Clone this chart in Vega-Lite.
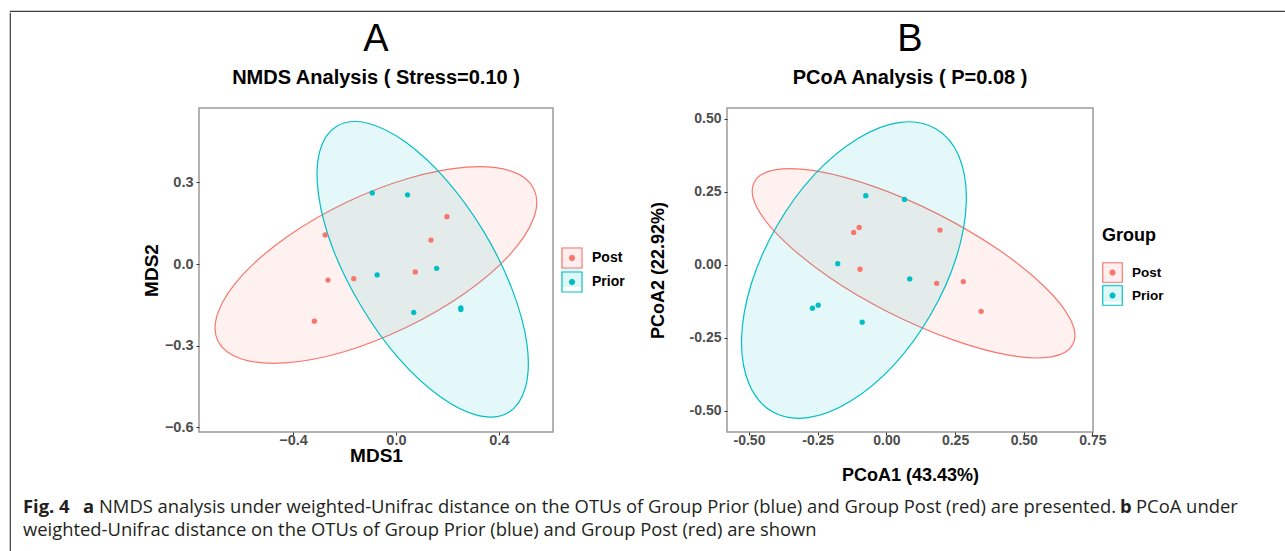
{
 "$schema": "https://vega.github.io/schema/vega-lite/v6.json",
 "background": "white",
 "padding": {"left": 9, "top": 10, "right": 0, "bottom": 0},
 "spacing": 0,
 "config": {
  "view": {"stroke": "#9a9a9a", "strokeWidth": 1.5},
  "axis": {"grid": false, "domain": false, "ticks": true, "tickColor": "#333333", "tickSize": 3, "tickWidth": 1, "labelFont": "Liberation Sans", "labelFontWeight": "bold", "labelColor": "#4d4d4d", "labelFontSize": 14, "labelPadding": 3, "titleFont": "Liberation Sans", "titleFontWeight": "bold", "titleColor": "black", "labelFlush": false, "labelOverlap": false},
  "legend": {"labelFont": "Liberation Sans", "labelFontWeight": "bold", "labelColor": "black", "titleFont": "Liberation Sans", "titleFontWeight": "bold", "titleColor": "black"},
  "title": {"font": "Liberation Sans", "fontSize": 38, "fontWeight": "normal", "color": "black", "subtitleFont": "Liberation Sans", "subtitleFontSize": 20, "subtitleFontWeight": "bold", "subtitleColor": "black"}
 },
 "datasets": {
  "ellA": [
   {"Group": "Post", "k": 0, "x": 0.536, "y": 0.275}, {"Group": "Post", "k": 1, "x": 0.534, "y": 0.166}, {"Group": "Post", "k": 2, "x": 0.439, "y": 0.031}, {"Group": "Post", "k": 3, "x": 0.265, "y": -0.109},
   {"Group": "Post", "k": 4, "x": 0.039, "y": -0.233}, {"Group": "Post", "k": 5, "x": -0.205, "y": -0.323}, {"Group": "Post", "k": 6, "x": -0.43, "y": -0.363}, {"Group": "Post", "k": 7, "x": -0.6, "y": -0.349},
   {"Group": "Post", "k": 8, "x": -0.692, "y": -0.282}, {"Group": "Post", "k": 9, "x": -0.689, "y": -0.173}, {"Group": "Post", "k": 10, "x": -0.594, "y": -0.038}, {"Group": "Post", "k": 11, "x": -0.42, "y": 0.102},
   {"Group": "Post", "k": 12, "x": -0.194, "y": 0.226}, {"Group": "Post", "k": 13, "x": 0.05, "y": 0.315}, {"Group": "Post", "k": 14, "x": 0.274, "y": 0.356}, {"Group": "Post", "k": 15, "x": 0.445, "y": 0.342},
   {"Group": "Prior", "k": 0, "x": 0.437, "y": -0.545}, {"Group": "Prior", "k": 1, "x": 0.32, "y": -0.557}, {"Group": "Prior", "k": 2, "x": 0.171, "y": -0.487}, {"Group": "Prior", "k": 3, "x": 0.01, "y": -0.346},
   {"Group": "Prior", "k": 4, "x": -0.135, "y": -0.155}, {"Group": "Prior", "k": 5, "x": -0.245, "y": 0.056}, {"Group": "Prior", "k": 6, "x": -0.301, "y": 0.256}, {"Group": "Prior", "k": 7, "x": -0.296, "y": 0.414},
   {"Group": "Prior", "k": 8, "x": -0.23, "y": 0.506}, {"Group": "Prior", "k": 9, "x": -0.113, "y": 0.518}, {"Group": "Prior", "k": 10, "x": 0.037, "y": 0.448}, {"Group": "Prior", "k": 11, "x": 0.197, "y": 0.307},
   {"Group": "Prior", "k": 12, "x": 0.343, "y": 0.116}, {"Group": "Prior", "k": 13, "x": 0.452, "y": -0.095}, {"Group": "Prior", "k": 14, "x": 0.509, "y": -0.295}, {"Group": "Prior", "k": 15, "x": 0.503, "y": -0.453}
  ],
  "ellB": [
   {"Group": "Post", "k": 0, "x": 0.679, "y": -0.272}, {"Group": "Post", "k": 1, "x": 0.601, "y": -0.315}, {"Group": "Post", "k": 2, "x": 0.445, "y": -0.309}, {"Group": "Post", "k": 3, "x": 0.237, "y": -0.255},
   {"Group": "Post", "k": 4, "x": 0.008, "y": -0.162}, {"Group": "Post", "k": 5, "x": -0.207, "y": -0.043}, {"Group": "Post", "k": 6, "x": -0.375, "y": 0.084}, {"Group": "Post", "k": 7, "x": -0.472, "y": 0.198},
   {"Group": "Post", "k": 8, "x": -0.481, "y": 0.283}, {"Group": "Post", "k": 9, "x": -0.402, "y": 0.326}, {"Group": "Post", "k": 10, "x": -0.247, "y": 0.32}, {"Group": "Post", "k": 11, "x": -0.039, "y": 0.266},
   {"Group": "Post", "k": 12, "x": 0.19, "y": 0.173}, {"Group": "Post", "k": 13, "x": 0.405, "y": 0.054}, {"Group": "Post", "k": 14, "x": 0.574, "y": -0.073}, {"Group": "Post", "k": 15, "x": 0.67, "y": -0.187},
   {"Group": "Prior", "k": 0, "x": 0.18, "y": 0.466}, {"Group": "Prior", "k": 1, "x": 0.264, "y": 0.372}, {"Group": "Prior", "k": 2, "x": 0.291, "y": 0.217}, {"Group": "Prior", "k": 3, "x": 0.255, "y": 0.027},
   {"Group": "Prior", "k": 4, "x": 0.162, "y": -0.169}, {"Group": "Prior", "k": 5, "x": 0.027, "y": -0.343}, {"Group": "Prior", "k": 6, "x": -0.131, "y": -0.467}, {"Group": "Prior", "k": 7, "x": -0.286, "y": -0.523},
   {"Group": "Prior", "k": 8, "x": -0.416, "y": -0.502}, {"Group": "Prior", "k": 9, "x": -0.5, "y": -0.407}, {"Group": "Prior", "k": 10, "x": -0.527, "y": -0.253}, {"Group": "Prior", "k": 11, "x": -0.491, "y": -0.063},
   {"Group": "Prior", "k": 12, "x": -0.398, "y": 0.134}, {"Group": "Prior", "k": 13, "x": -0.263, "y": 0.308}, {"Group": "Prior", "k": 14, "x": -0.105, "y": 0.432}, {"Group": "Prior", "k": 15, "x": 0.05, "y": 0.488}
  ],
  "ptsA": [
   {"Group": "Post", "x": -0.275, "y": 0.107}, {"Group": "Post", "x": 0.198, "y": 0.174}, {"Group": "Post", "x": 0.136, "y": 0.088}, {"Group": "Post", "x": -0.264, "y": -0.059},
   {"Group": "Post", "x": -0.164, "y": -0.054}, {"Group": "Post", "x": 0.075, "y": -0.029}, {"Group": "Post", "x": -0.317, "y": -0.21},
   {"Group": "Prior", "x": -0.092, "y": 0.261}, {"Group": "Prior", "x": 0.045, "y": 0.254}, {"Group": "Prior", "x": -0.073, "y": -0.04}, {"Group": "Prior", "x": 0.158, "y": -0.016},
   {"Group": "Prior", "x": 0.069, "y": -0.178}, {"Group": "Prior", "x": 0.252, "y": -0.161}, {"Group": "Prior", "x": 0.252, "y": -0.167}
  ],
  "ptsB": [
   {"Group": "Post", "x": -0.119, "y": 0.111}, {"Group": "Post", "x": -0.099, "y": 0.128}, {"Group": "Post", "x": 0.195, "y": 0.119}, {"Group": "Post", "x": -0.096, "y": -0.015},
   {"Group": "Post", "x": 0.183, "y": -0.063}, {"Group": "Post", "x": 0.28, "y": -0.057}, {"Group": "Post", "x": 0.345, "y": -0.159},
   {"Group": "Prior", "x": -0.075, "y": 0.237}, {"Group": "Prior", "x": 0.066, "y": 0.224}, {"Group": "Prior", "x": -0.177, "y": 0.004}, {"Group": "Prior", "x": 0.085, "y": -0.048},
   {"Group": "Prior", "x": -0.269, "y": -0.148}, {"Group": "Prior", "x": -0.248, "y": -0.138}, {"Group": "Prior", "x": -0.088, "y": -0.196}
  ]
 },
 "vconcat": [
  {"data": {"values": []}, "mark": "point", "width": 1274, "height": 0.001, "view": {"stroke": "#3c3c3c", "strokeWidth": 1.2}},
  {"spacing": 12, "hconcat": [
   {"data": {"values": []}, "mark": "point", "width": 0.001, "height": 538, "view": {"stroke": "#3c3c3c", "strokeWidth": 1.2}},
   {"spacing": 6, "vconcat": [
    {"data": {"values": []}, "mark": "point", "width": 0.001, "height": 0.001, "view": {"stroke": null}},
    {"spacing": 117, "hconcat": [
     {"data": {"values": []}, "mark": "point", "width": 0.001, "height": 0.001, "view": {"stroke": null}},
     {"spacing": 22,
      "resolve": {"scale": {"color": "independent", "fill": "independent", "stroke": "independent"}, "legend": {"color": "independent", "fill": "independent", "stroke": "independent"}},
      "hconcat": [
      {
       "width": 354, "height": 324,
       "title": {"text": "A", "subtitle": "NMDS Analysis ( Stress=0.10 )", "frame": "group", "anchor": "middle", "offset": 20, "subtitlePadding": 9},
       "encoding": {
        "x": {"field": "x", "type": "quantitative", "scale": {"domain": [-0.765, 0.61], "nice": false, "zero": false}, "axis": {"title": "MDS1", "values": [-0.4, 0, 0.4], "format": ".1f", "labelFontSize": 14.5, "labelPadding": -2, "titleFontSize": 19, "titlePadding": 0}},
        "y": {"field": "y", "type": "quantitative", "scale": {"domain": [-0.617, 0.573], "nice": false, "zero": false}, "axis": {"title": "MDS2", "values": [-0.6, -0.3, 0, 0.3], "format": ".1f", "labelFontSize": 14.5, "titleFontSize": 19, "titlePadding": 3}}
       },
       "layer": [
        {"data": {"name": "ellA"}, "mark": {"type": "line", "interpolate": "cardinal-closed", "strokeWidth": 1.2, "fillOpacity": 0.1},
         "encoding": {
          "stroke": {"field": "Group", "type": "nominal", "scale": {"range": ["#F8766D", "#00BFC4"]},
           "legend": {"title": null, "orient": "none", "legendX": 362, "legendY": 139, "padding": 0, "rowPadding": -8, "labelOffset": 9, "labelFontSize": 14, "symbolSize": 400, "symbolFillColor": "transparent", "symbolStrokeWidth": 1.2,
            "symbolType": "M-1,-1L1,-1L1,1L-1,1Z M0.26,0L0.184,0.184L0,0.26L-0.184,0.184L-0.26,0L-0.184,-0.184L0,-0.26L0.184,-0.184Z M0.16,0L0.113,0.113L0,0.16L-0.113,0.113L-0.16,0L-0.113,-0.113L0,-0.16L0.113,-0.113Z M0.06,0L0,0.06L-0.06,0L0,-0.06Z"}},
          "fill": {"field": "Group", "type": "nominal", "scale": {"domain": ["Post", "Prior"], "range": ["#F8766D", "#00BFC4"]},
           "legend": {"title": null, "orient": "none", "legendX": 362, "legendY": 139, "padding": 0, "rowPadding": -8, "labelOffset": 9, "labelFontSize": 14, "labelExpr": "''", "symbolSize": 400, "symbolType": "square", "symbolOpacity": 0.12, "symbolStrokeWidth": 0}},
          "order": {"field": "k", "type": "quantitative"}
         }},
        {"data": {"name": "ptsA"}, "mark": {"type": "circle", "size": 28, "opacity": 1},
         "encoding": {
          "color": {"field": "Group", "type": "nominal", "scale": {"range": ["#F8766D", "#00BFC4"]}, "legend": null}
         }}
       ]
      },
      {
       "width": 366, "height": 324,
       "title": {"text": "B", "subtitle": "PCoA Analysis ( P=0.08 )", "frame": "group", "anchor": "middle", "offset": 20, "subtitlePadding": 9},
       "encoding": {
        "x": {"field": "x", "type": "quantitative", "scale": {"domain": [-0.58, 0.752], "nice": false, "zero": false}, "axis": {"title": "PCoA1 (43.43%)", "values": [-0.5, -0.25, 0, 0.25, 0.5, 0.75], "format": ".2f", "labelExpr": "replace(datum.label, '−', '-')", "labelPadding": -2, "titleFontSize": 18, "titlePadding": 19}},
        "y": {"field": "y", "type": "quantitative", "scale": {"domain": [-0.572, 0.537], "nice": false, "zero": false}, "axis": {"title": "PCoA2 (22.92%)", "values": [-0.5, -0.25, 0, 0.25, 0.5], "format": ".2f", "labelExpr": "replace(datum.label, '−', '-')", "titleFontSize": 18, "titlePadding": 22}}
       },
       "layer": [
        {"data": {"name": "ellB"}, "mark": {"type": "line", "interpolate": "cardinal-closed", "strokeWidth": 1.2, "fillOpacity": 0.1},
         "encoding": {
          "stroke": {"field": "Group", "type": "nominal", "scale": {"range": ["#F8766D", "#00BFC4"]},
           "legend": {"title": "Group", "orient": "none", "legendX": 375, "legendY": 119, "padding": 0, "rowPadding": -9.5, "labelOffset": 9, "labelFontSize": 13.5, "titleFontSize": 18, "titlePadding": 17, "symbolSize": 380, "symbolFillColor": "transparent", "symbolStrokeWidth": 1.2,
            "symbolType": "M-1,-1L1,-1L1,1L-1,1Z M0.26,0L0.184,0.184L0,0.26L-0.184,0.184L-0.26,0L-0.184,-0.184L0,-0.26L0.184,-0.184Z M0.16,0L0.113,0.113L0,0.16L-0.113,0.113L-0.16,0L-0.113,-0.113L0,-0.16L0.113,-0.113Z M0.06,0L0,0.06L-0.06,0L0,-0.06Z"}},
          "fill": {"field": "Group", "type": "nominal", "scale": {"domain": ["Post", "Prior"], "range": ["#F8766D", "#00BFC4"]},
           "legend": {"title": " ", "orient": "none", "legendX": 375, "legendY": 119, "padding": 0, "rowPadding": -9.5, "labelOffset": 9, "labelFontSize": 13.5, "labelExpr": "''", "titleFontSize": 18, "titlePadding": 17, "symbolSize": 380, "symbolType": "square", "symbolOpacity": 0.12, "symbolStrokeWidth": 0}},
          "order": {"field": "k", "type": "quantitative"}
         }},
        {"data": {"name": "ptsB"}, "mark": {"type": "circle", "size": 28, "opacity": 1},
         "encoding": {
          "color": {"field": "Group", "type": "nominal", "scale": {"range": ["#F8766D", "#00BFC4"]}, "legend": null}
         }}
       ]
      }
     ]}
    ]},
    {"spacing": 6, "vconcat": [
     {"data": {"values": []}, "mark": "point", "width": 0.001, "height": 0.001, "view": {"stroke": null}},
     {"spacing": 4, "vconcat": [
      {"spacing": 13, "hconcat": [
       {"data": {"values": [{"t": "Fig. 4"}]}, "width": 0.001, "height": 0.001, "view": {"stroke": null}, "mark": {"type": "text", "align": "left", "baseline": "middle", "font": "Open Sans", "fontSize": 18.4, "fontWeight": "bold", "color": "#231f20"}, "encoding": {"text": {"field": "t"}}},
       {"spacing": 4, "hconcat": [
        {"data": {"values": [{"t": "a"}]}, "width": 0.001, "height": 0.001, "view": {"stroke": null}, "mark": {"type": "text", "align": "left", "baseline": "middle", "font": "Open Sans", "fontSize": 18.4, "fontWeight": "bold", "color": "#231f20"}, "encoding": {"text": {"field": "t"}}},
        {"data": {"values": [{"t": "NMDS analysis under weighted-Unifrac distance on the OTUs of Group Prior (blue) and Group Post (red) are presented."}]}, "width": 0.001, "height": 0.001, "view": {"stroke": null}, "mark": {"type": "text", "align": "left", "baseline": "middle", "font": "Open Sans", "fontSize": 18.4, "fontWeight": "normal", "color": "#231f20"}, "encoding": {"text": {"field": "t"}}},
        {"data": {"values": [{"t": "b"}]}, "width": 0.001, "height": 0.001, "view": {"stroke": null}, "mark": {"type": "text", "align": "left", "baseline": "middle", "font": "Open Sans", "fontSize": 18.4, "fontWeight": "bold", "color": "#231f20"}, "encoding": {"text": {"field": "t"}}},
        {"data": {"values": [{"t": "PCoA under"}]}, "width": 0.001, "height": 0.001, "view": {"stroke": null}, "mark": {"type": "text", "align": "left", "baseline": "middle", "font": "Open Sans", "fontSize": 18.4, "fontWeight": "normal", "color": "#231f20"}, "encoding": {"text": {"field": "t"}}}
       ]}
      ]},
      {"data": {"values": [{"t": "weighted-Unifrac distance on the OTUs of Group Prior (blue) and Group Post (red) are shown"}]}, "width": 0.001, "height": 0.001, "view": {"stroke": null}, "mark": {"type": "text", "align": "left", "baseline": "middle", "font": "Open Sans", "fontSize": 18.4, "fontWeight": "normal", "color": "#231f20"}, "encoding": {"text": {"field": "t"}}}
     ]}
    ]}
   ]}
  ]}
 ]
}
